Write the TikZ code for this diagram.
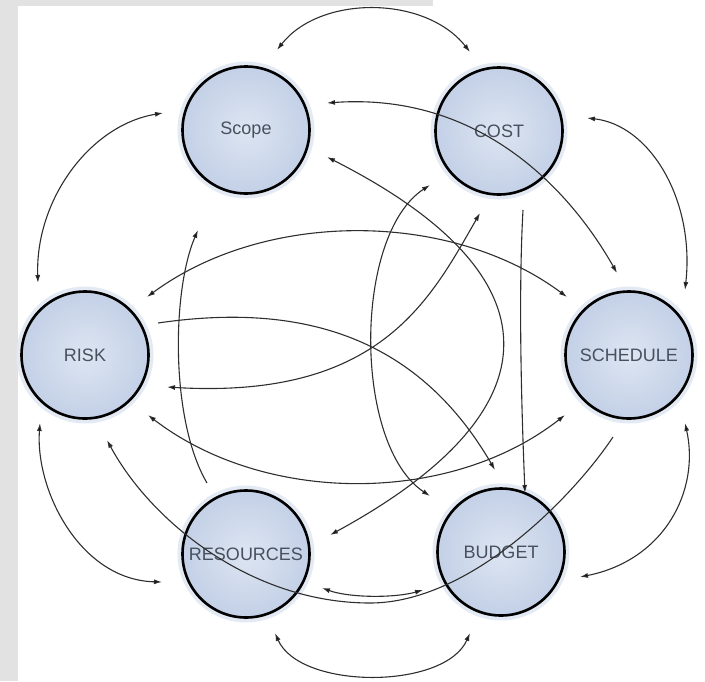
\documentclass[tikz,border=0pt]{standalone}
\usepackage{fontspec}
\setmainfont{Liberation Sans}
\usetikzlibrary{arrows.meta,calc,positioning}

\definecolor{ringfill}{HTML}{C3D0E6}
\definecolor{ringlight}{HTML}{DDE5F2}
\definecolor{labelgray}{HTML}{46505E}
\definecolor{wire}{HTML}{2E2E2E}
\definecolor{panel}{HTML}{E2E2E2}

\tikzset{
  topic/.style={circle, draw=black, line width=2.6pt, minimum size=127pt, inner sep=0pt,
    inner color=ringlight, outer color=ringfill, text=labelgray,
    preaction={draw=ringfill!45, line width=10pt},
    font=\fontsize{18}{20}\selectfont},
  link/.style={draw=wire, line width=1.1pt},
  via/.style 2 args={to path={.. controls #1 and #2 .. (\tikztotarget)}}
}

\begin{document}
\begin{tikzpicture}[x=1pt, y=-1pt, >={Latex[length=8pt,width=5pt]}]
		\useasboundingbox (0,0) rectangle (705,681);
		\fill [panel] (0,0) rectangle (18,681);
		\fill [panel] (0,0) rectangle (433,6);

		\draw (246,130) node [topic] (scope) {Scope};
		\draw (499,131) node [topic] (cost) {COST};
		\draw (85,355) node [topic] (risk) {RISK};
		\draw (629,355) node [topic] (sched) {SCHEDULE};
		\draw (246,554) node [topic] (resrc) {RESOURCES};
		\draw (501,552) node [topic] (budget) {BUDGET};

		% outer ring
		\draw [link]
			($(scope)+(31,-80)$) edge [<->, via={(320,-5)}{(425,-5)}] ($(cost)+(-29,-79)$)
			($(cost)+(88,-13)$) edge [<->, via={(650,125)}{(695,200)}] ($(sched)+(56,-65)$)
			($(sched)+(56,68)$) edge [<->, via={(700,490)}{(665,560)}] ($(budget)+(79,25)$)
			($(budget)+(-31,81)$) edge [<->, via={(445,690)}{(300,690)}] ($(resrc)+(29,79)$)
			($(resrc)+(-84,28)$) edge [<->, via={(80,580)}{(35,490)}] ($(risk)+(-45,68)$)
			($(risk)+(-47,-72)$) edge [<->, via={(35,200)}{(90,125)}] ($(scope)+(-83,-17)$)
		;

		% inner links
		\draw [link]
			($(risk)+(62,-58)$) edge [<->, via={(265,210)}{(450,210)}] ($(sched)+(-62,-58)$)
			($(risk)+(63,60)$) edge [<->, via={(265,505)}{(450,505)}] ($(sched)+(-64,60)$)
			($(risk)+(82,32)$) edge [<->, via={(380,400)}{(430,300)}] ($(cost)+(-19,82)$)
			($(risk)+(73,-32)$) edge [->, via={(308,301)}{(420,341)}] ($(budget)+(-6,-82)$)
			($(resrc)+(-39,-71)$) edge [->, via={(170,420)}{(172,290)}] ($(scope)+(-48,100)$)
			($(cost)+(-69,54)$) edge [<->, via={(353,235)}{(353,445)}] ($(budget)+(-71,-56)$)
			($(scope)+(81,27)$) edge [<->, via={(560,275)}{(560,410)}] ($(resrc)+(84,-19)$)
			($(cost)+(24,79)$) edge [->, via={(518,300)}{(522,420)}] ($(budget)+(24,-59)$)
			($(scope)+(81,-27)$) edge [<->, via={(480,92)}{(570,190)}] ($(sched)+(-12,-82)$)
			($(resrc)+(76,34)$) edge [<->, via={(350,598)}{(395,598)}] ($(budget)+(-78,38)$)
		;
		\draw [link, ->] ($(sched)+(-16,82)$) .. controls (573,497) and (470,603) .. (370,603)
			.. controls (250,603) and (150,520) .. ($(risk)+(22,85)$);
	\end{tikzpicture}
\end{document}
